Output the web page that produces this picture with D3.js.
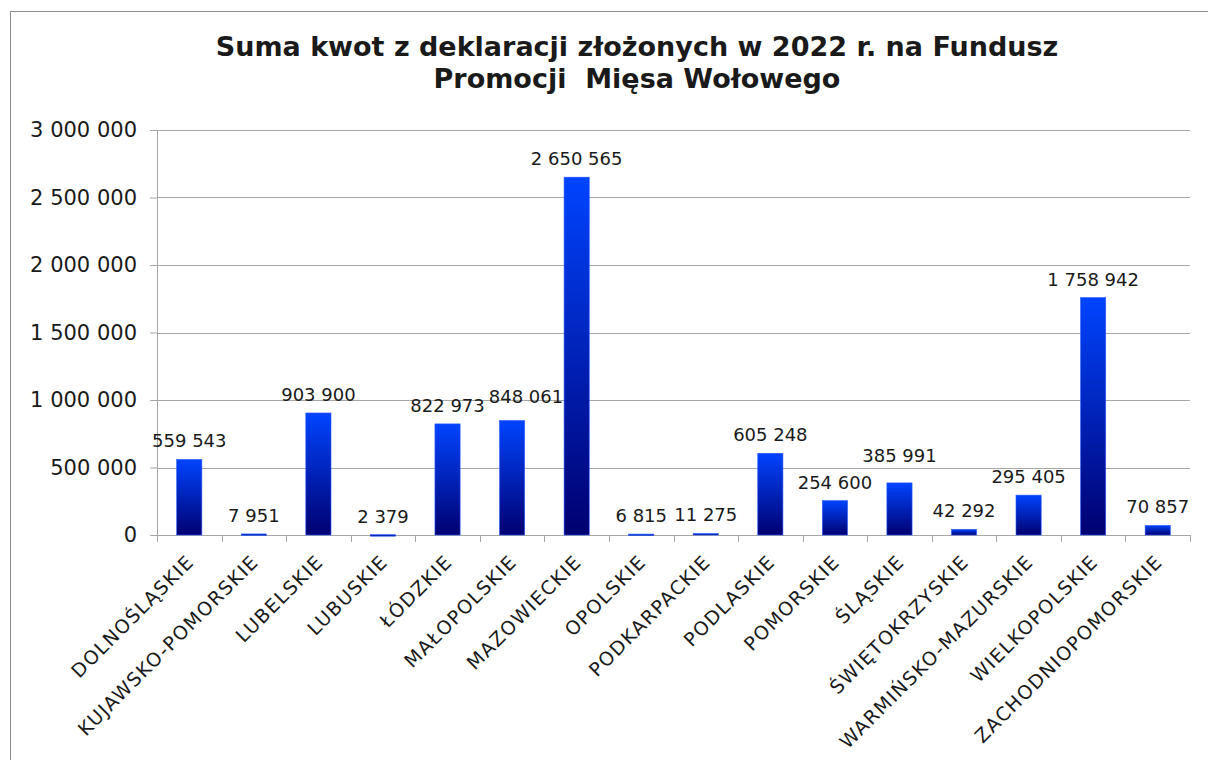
<!DOCTYPE html>
<html>
<head>
<meta charset="utf-8">
<script src="https://cdn.jsdelivr.net/npm/d3@7"></script>
<style>
  body { margin: 0; background: #fff; }
  text { font-family: "DejaVu Sans", Verdana, sans-serif; fill: #1a1a1a; }
</style>
</head>
<body>
<div id="chart"></div>
<script>
// regions (województwa)
const regions = ['DOLNOŚLĄSKIE', 'KUJAWSKO-POMORSKIE', 'LUBELSKIE', 'LUBUSKIE', 'ŁÓDZKIE',
    'MAŁOPOLSKIE', 'MAZOWIECKIE', 'OPOLSKIE', 'PODKARPACKIE', 'PODLASKIE', 'POMORSKIE',
    'ŚLĄSKIE', 'ŚWIĘTOKRZYSKIE', 'WARMIŃSKO-MAZURSKIE', 'WIELKOPOLSKIE', 'ZACHODNIOPOMORSKIE']
const amounts = [559543, 7951, 903900, 2379, 822973, 848061, 2650565, 6815, 11275,
    605248, 254600, 385991, 42292, 295405, 1758942, 70857]
const yTicks = [0, 500000, 1000000, 1500000, 2000000, 2500000, 3000000]
const titleLines = ['Suma kwot z deklaracji złożonych w 2022 r. na Fundusz', 'Promocji  Mięsa Wołowego']

const data = regions.map((r, i) => ({ region: r, value: amounts[i] }))

const width = 1208, height = 760
const margin = { top: 130, right: 18, bottom: 225, left: 157 }
const innerW = width - margin.left - margin.right
const innerH = height - margin.top - margin.bottom

const pl = d3.formatLocale({ decimal: ',', thousands: '\u00a0', grouping: [3], currency: ['', ' zł'] })
const fmt = pl.format(',d')

const svg = d3.select('#chart').append('svg')
    .attr('width', width)
    .attr('height', height)

// outer frame
svg.append('rect')
    .attr('x', 10.5).attr('y', 11.5)
    .attr('width', 1210).attr('height', 800)
    .attr('fill', 'none')
    .attr('stroke', '#8c8c8c')

const defs = svg.append('defs')
const grad = defs.append('linearGradient')
    .attr('id', 'barGrad')
    .attr('x1', 0).attr('y1', 0).attr('x2', 0).attr('y2', 1)
grad.append('stop').attr('offset', '0%').attr('stop-color', '#0044ff')
grad.append('stop').attr('offset', '100%').attr('stop-color', '#000070')

// title
svg.append('text')
    .attr('x', 637)
    .attr('y', 56)
    .attr('text-anchor', 'middle')
    .style('font-size', '27px')
    .style('font-weight', 'bold')
    .style('white-space', 'pre')
    .selectAll('tspan')
    .data(titleLines)
    .join('tspan')
    .attr('x', 637)
    .attr('dy', (d, i) => i === 0 ? 0 : 32)
    .text(d => d)

const chart = svg.append('g')
    .attr('transform', `translate(${margin.left},${margin.top})`)

const x = d3.scaleBand()
    .domain(regions)
    .range([0, innerW])
    .padding(0)

const y = d3.scaleLinear()
    .domain([0, 3000000])
    .range([innerH, 0])

// gridlines
chart.append('g')
    .selectAll('line')
    .data(yTicks)
    .join('line')
    .attr('x1', 0).attr('x2', innerW)
    .attr('y1', d => Math.round(y(d)) + 0.5)
    .attr('y2', d => Math.round(y(d)) + 0.5)
    .attr('stroke', '#a6a6a6')

// y axis
const yAxis = d3.axisLeft(y)
    .tickValues(yTicks)
    .tickSize(7)
    .tickPadding(13)
    .tickFormat(fmt)
const yG = chart.append('g').attr('class', 'axis').call(yAxis)
yG.selectAll('text').style('font-size', '21px')
yG.selectAll('line, path').attr('stroke', '#a6a6a6')
yG.select('.domain').attr('d', `M0.5,${innerH}V0`)

// x axis line + boundary ticks
const xG = chart.append('g').attr('transform', `translate(0,${innerH})`)
xG.append('line')
    .attr('x1', 0).attr('x2', innerW)
    .attr('y1', 0.5).attr('y2', 0.5)
    .attr('stroke', '#a6a6a6')
const bounds = regions.map(r => x(r)).concat([innerW])
xG.selectAll('.bt')
    .data(bounds)
    .join('line')
    .attr('class', 'bt')
    .attr('x1', d => Math.round(d) + 0.5).attr('x2', d => Math.round(d) + 0.5)
    .attr('y1', 0).attr('y2', 7)
    .attr('stroke', '#a6a6a6')

xG.selectAll('.cat')
    .data(regions)
    .join('text')
    .attr('class', 'cat')
    .attr('text-anchor', 'end')
    .attr('transform', d => `translate(${x(d) + x.bandwidth() / 2 + 6},${28}) rotate(-45)`)
    .style('font-size', '19px')
    .style('letter-spacing', '1.4px')
    .text(d => d)

// bars
const barW = x.bandwidth() * 0.39
chart.append('g')
    .selectAll('rect')
    .data(data)
    .join('rect')
    .attr('x', d => x(d.region) + (x.bandwidth() - barW) / 2)
    .attr('y', d => y(d.value))
    .attr('width', barW)
    .attr('height', d => Math.max(innerH - y(d.value), 1.5))
    .attr('fill', 'url(#barGrad)')
    .attr('stroke', '#2a5cff')
    .attr('stroke-width', 0.6)

// value labels
const labels = chart.append('g')
    .selectAll('text')
    .data(data)
    .join('text')
    .attr('x', d => x(d.region) + x.bandwidth() / 2)
    .attr('y', d => y(d.value) - 12)
    .attr('text-anchor', 'middle')
    .style('font-size', '18px')
    .text(d => fmt(d.value))

// resolve collisions with the previous label: lift it if only slightly overlapping,
// otherwise push it to the right
let prev = null
labels.each(function () {
    const b = this.getBBox()
    if (prev && b.x < prev.x + prev.width + 3 && b.y < prev.y + prev.height && b.y + b.height > prev.y) {
        const overlapY = b.y + b.height - prev.y
        const sel = d3.select(this)
        if (overlapY < b.height / 2) {
            sel.attr('y', +this.getAttribute('y') - overlapY - 6)
        } else {
            sel.attr('x', +this.getAttribute('x') + (prev.x + prev.width + 4 - b.x))
                .attr('y', +this.getAttribute('y') - 6)
        }
    }
    prev = this.getBBox()
})
</script>
</body>
</html>
